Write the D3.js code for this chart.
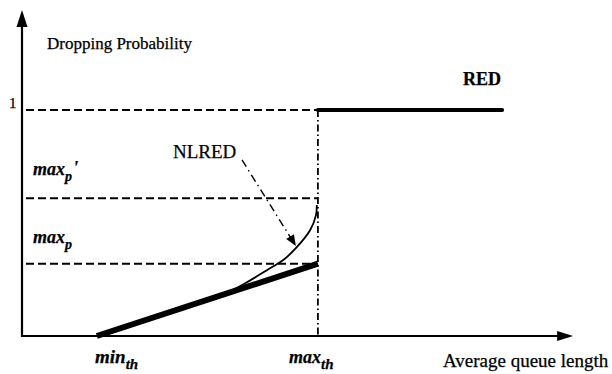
<!DOCTYPE html>
<html>
<head>
<meta charset="utf-8">
<script src="https://cdn.jsdelivr.net/npm/d3@7"></script>
<style>
  html, body { margin: 0; padding: 0; background: #fff; }
  svg text { font-family: "Liberation Serif", "Times New Roman", serif; fill: #000; stroke: #000; stroke-width: 0.25; }
</style>
</head>
<body>
<svg id="chart" width="612" height="374"></svg>
<script>
// Thresholds and probabilities (queue length in arbitrary units, probability 0..1)
const minTh = 13.6;
const maxTh = 53.8;
const queueEnd = 87.3;
const maxP = 0.32;
const maxPPrime = 0.61;
const pFull = 1;

// RED: linear ramp from minTh to maxTh, then full drop probability
const redRampX = [minTh, maxTh];
const redRampY = [0, maxP];
const redFullX = [maxTh, queueEnd];
const redFullY = [pFull, pFull];

// NLRED: nonlinear drop curve
const nlredX = [13.6, 23.3, 32.4, 38.7, 45.1, 47.5, 50.0, 52.4, 53.45, 53.6];
const nlredY = [0, 0.074, 0.146, 0.208, 0.300, 0.336, 0.394, 0.469, 0.535, 0.58];

const svg = d3.select("#chart");
const x = d3.scaleLinear().domain([0, 100]).range([22, 572]);
const y = d3.scaleLinear().domain([0, 1]).range([336, 110]);

const line = d3.line().x(d => x(d[0])).y(d => y(d[1]));
const pairs = (xs, ys) => xs.map((v, i) => [v, ys[i]]);

// Axes with arrowheads
const x0 = x(0), y0 = y(0);
svg.append("line").attr("x1", x0).attr("y1", y0).attr("x2", x(97.5)).attr("y2", y0)
  .attr("stroke", "#000").attr("stroke-width", 2.2);
svg.append("line").attr("x1", x0).attr("y1", y0 + 1).attr("x2", x0).attr("y2", y(1.38))
  .attr("stroke", "#000").attr("stroke-width", 2.2);
const xt = x(100.2);
svg.append("path").attr("d", `M${xt},${y0} L${xt - 16},${y0 - 5} L${xt - 16},${y0 + 5} Z`).attr("fill", "#000");
const yt = y(1.442);
svg.append("path").attr("d", `M${x0},${yt} L${x0 - 5.5},${yt + 17} L${x0 + 5.5},${yt + 17} Z`).attr("fill", "#000");

// Horizontal dashed reference levels
[pFull, maxPPrime, maxP].forEach(p => {
  svg.append("line")
    .attr("x1", x0 + 4).attr("x2", x(maxTh))
    .attr("y1", y(p)).attr("y2", y(p))
    .attr("stroke", "#000").attr("stroke-width", 2)
    .attr("stroke-dasharray", "8,4");
});

// Vertical dash-dot line at maxTh
svg.append("line")
  .attr("x1", x(maxTh)).attr("x2", x(maxTh))
  .attr("y1", y(pFull)).attr("y2", y0)
  .attr("stroke", "#000").attr("stroke-width", 1.8)
  .attr("stroke-dasharray", "7,3,1.5,3");

// NLRED curve
svg.append("path")
  .attr("d", d3.line().x(d => x(d[0])).y(d => y(d[1])).curve(d3.curveCatmullRom)(pairs(nlredX, nlredY)))
  .attr("fill", "none").attr("stroke", "#000").attr("stroke-width", 1.8);

// RED ramp (thick)
svg.append("path")
  .attr("d", line(pairs(redRampX, redRampY)))
  .attr("fill", "none").attr("stroke", "#000").attr("stroke-width", 6);

// RED full drop (thick)
svg.append("path")
  .attr("d", line(pairs(redFullX, redFullY)))
  .attr("fill", "none").attr("stroke", "#000").attr("stroke-width", 4)
  .attr("stroke-linecap", "round");

// NLRED pointer arrow
const ax1 = x(40), ay1 = y(0.779), ax2 = x(49.8), ay2 = y(0.398);
const ang = Math.atan2(ay2 - ay1, ax2 - ax1);
svg.append("line")
  .attr("x1", ax1).attr("y1", ay1)
  .attr("x2", ax2 - 8 * Math.cos(ang)).attr("y2", ay2 - 8 * Math.sin(ang))
  .attr("stroke", "#000").attr("stroke-width", 1.4)
  .attr("stroke-dasharray", "8,4,1.5,4");
svg.append("path")
  .attr("d", "M0,0 L-11,-4.5 L-11,4.5 Z")
  .attr("transform", `translate(${ax2},${ay2}) rotate(${ang * 180 / Math.PI})`)
  .attr("fill", "#000");

// Text labels
svg.append("text").attr("x", 47).attr("y", 49).attr("font-size", 17).text("Dropping Probability");
svg.append("text").attr("x", 9).attr("y", y(pFull) - 2).attr("font-size", 15).text("1");
svg.append("text").attr("x", 463).attr("y", 85).attr("font-size", 18).attr("font-weight", "bold").text("RED");
svg.append("text").attr("x", 173).attr("y", 158).attr("font-size", 19).text("NLRED");
svg.append("text").attr("x", 443).attr("y", 367).attr("font-size", 19).text("Average queue length");

// Bold italic symbol with subscript (and optional prime)
function subLabel(px, py, main, sub, size, subSize, dy, prime) {
  const t = svg.append("text").attr("x", px).attr("y", py)
    .attr("font-size", size).attr("font-weight", "bold").attr("font-style", "italic");
  t.append("tspan").text(main);
  t.append("tspan").attr("font-size", subSize).attr("dy", dy).text(sub);
  if (prime) {
    t.append("tspan").attr("font-size", 19).attr("dx", 1).attr("dy", -7).text("'");
  }
}
subLabel(33, 175, "max", "p", 18, 14, 6, true);
subLabel(33, 243, "max", "p", 18, 14, 6, false);
subLabel(95, 363, "min", "th", 19, 15, 6, false);
subLabel(289, 363, "max", "th", 18, 15, 6, false);
</script>
</body>
</html>
